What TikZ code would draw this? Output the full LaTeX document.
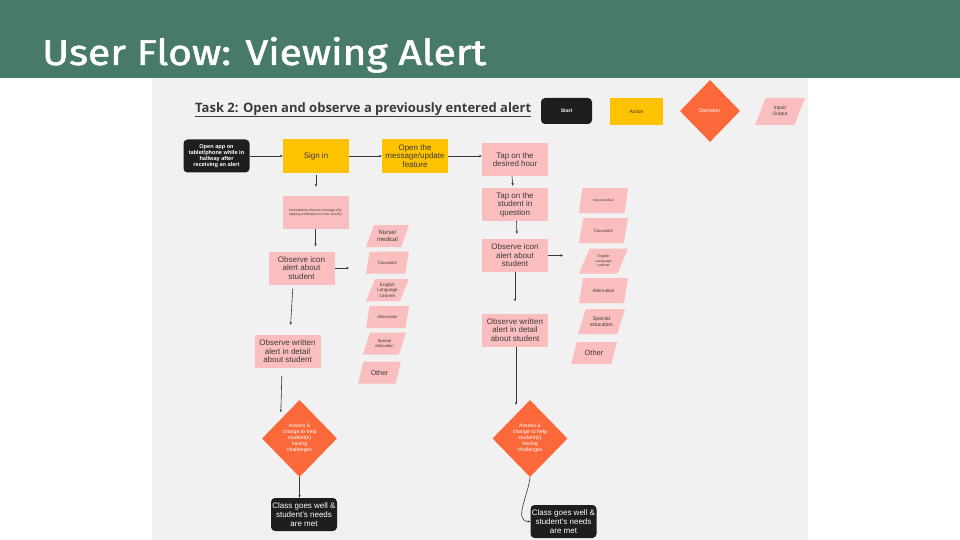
\documentclass[tikz,border=0pt]{standalone}
\usepackage{graphicx}
\usepackage{fontspec}
\setmainfont{Liberation Sans}
\newfontfamily\headfont[FakeBold=1.4]{Fira Sans}
\newfontfamily\taskfont{Open Sans}
\usetikzlibrary{shapes.geometric,arrows.meta}

\definecolor{headgreen}{RGB}{72,122,106}
\definecolor{panelgrey}{RGB}{241,241,241}
\definecolor{startblack}{RGB}{30,30,30}
\definecolor{actyellow}{RGB}{253,194,0}
\definecolor{iopink}{RGB}{251,190,190}
\definecolor{decorange}{RGB}{251,104,58}
\definecolor{txtdark}{RGB}{62,58,58}
\definecolor{linegrey}{RGB}{55,55,55}

\newcommand\fsz[2]{\fontsize{#1}{#2}\selectfont}

\tikzset{
  startbox/.style={fill=startblack, rounded corners=4pt, text=white, align=center,
    inner sep=1pt, minimum width=66pt, minimum height=33pt, font=\fsz{8}{9}},
  actbox/.style={fill=actyellow, text=txtdark, align=center, inner sep=1pt,
    minimum width=66pt, minimum height=34pt, font=\fsz{8}{8.5}},
  pinkbox/.style={fill=iopink, text=txtdark, align=center, inner sep=1pt,
    minimum width=66pt, minimum height=33pt, font=\fsz{8}{8.5}},
  iobox/.style={trapezium, trapezium left angle=63, trapezium right angle=117,
    trapezium stretches=true, fill=iopink, text=txtdark, align=center,
    inner sep=0.5pt, minimum width=43pt, minimum height=22pt},
  decbox/.style={diamond, fill=decorange, text=white, align=center, inner sep=0pt,
    minimum width=75pt, minimum height=77pt, font=\fsz{5.2}{6}},
  arr/.style={draw=linegrey, line width=0.6pt, -{Stealth[length=2.8pt,width=2.4pt]}},
}

\begin{document}
\begin{tikzpicture}[x=1pt, y=-1pt]
  \useasboundingbox (0,0) rectangle (960,540);
  % page background, header band and grey board
  \fill[white] (0,0) rectangle (960,540);
  \fill[headgreen] (0,0) rectangle (960,78);
  \fill[panelgrey] (152,78) rectangle (808,540);

  \node[anchor=base west, inner sep=0, text=white] (head) at (42,65)
    {\resizebox{444pt}{28pt}{\headfont User Flow: Viewing Alert}};

  % task heading
  \node[anchor=base west, inner sep=0, text=txtdark] (task) at (195,112.5)
    {\resizebox{336pt}{!}{\taskfont\bfseries Task 2: Open and observe a previously entered alert}};
  \draw[txtdark, line width=0.8pt] (task.base west) ++(0,3.5) -- ++(336,0);

  % legend
  \node[startbox, minimum width=51pt, minimum height=26pt, font=\fsz{5}{6}\bfseries] (lgStart) at (566.5,111) {Start};
  \node[actbox, minimum width=53pt, minimum height=27pt, font=\fsz{5}{6}] (lgAct) at (636.5,111.5) {Action};
  \node[decbox, minimum width=60pt, minimum height=62pt, font=\fsz{5.5}{6.5}] (lgDec) at (710,111) {Decision};
  \node[iobox, minimum width=50pt, minimum height=27pt, font=\fsz{5}{6}] (lgIO) at (780,111.5) {Input/\\Output};

  % top row
  \node[startbox, font=\fsz{5.6}{5.9}\bfseries] (start) at (216.5,156)
    {Open app on\\tablet/phone while in\\hallway after\\receiving an alert};
  \node[actbox] (signin) at (316,156) {Sign in};
  \node[actbox] (openmsg) at (415,156) {Open the\\message/update\\feature};

  % left column
  \node[pinkbox, font=\fsz{3.4}{4.6}] (immed) at (315.5,212.5)
    {Immediately observe message (By\\tapping notification on lock screen)};
  \node[pinkbox] (iconL) at (301.5,268) {Observe icon\\alert about\\student};
  \node[pinkbox] (writL) at (287.5,351.5) {Observe written\\alert in detail\\about student};
  \node[decbox] (decL) at (299.5,438.5) {Assess \&\\change to help\\student(s)\\having\\challenges};
  \node[startbox] (endL) at (304,514.5) {Class goes well \&\\student's needs\\are met};

  % left list of alert types
  \node[iobox, font=\fsz{6}{7}] (nurseL) at (387.5,236) {Nurse/\\medical};
  \node[iobox, font=\fsz{4.2}{5}] (counsL) at (387.5,262.5) {Counselor};
  \node[iobox, font=\fsz{4.6}{5.5}] (ellL) at (387.5,290) {English\\Language\\Learner};
  \node[iobox, font=\fsz{4.2}{5}] (altL) at (387.5,317) {Alternation};
  \node[iobox, font=\fsz{4.2}{5}] (spedL) at (384.5,343.5) {Special\\education};
  \node[iobox, font=\fsz{7}{8}] (otherL) at (379.5,372.5) {Other};

  % right column
  \node[pinkbox] (taphour) at (515,159.5) {Tap on the\\desired hour};
  \node[pinkbox] (tapstud) at (515,204.5) {Tap on the\\student in\\question};
  \node[pinkbox] (iconR) at (515,255.5) {Observe icon\\alert about\\student};
  \node[pinkbox] (writR) at (515,330) {Observe written\\alert in detail\\about student};
  \node[decbox] (decR) at (530,438.5) {Assess \&\\change to help\\student(s)\\having\\challenges};
  \node[startbox] (endR) at (563.5,521.5) {Class goes well \&\\student's needs\\are met};

  % right list of alert types
  \node[iobox, minimum width=49pt, minimum height=25pt, font=\fsz{3.2}{4}] (nurseR) at (603.5,200.5) {Nurse/medical};
  \node[iobox, minimum width=49pt, minimum height=25pt, font=\fsz{4.2}{5}] (counsR) at (603.5,230.5) {Counselor};
  \node[iobox, minimum width=49pt, minimum height=25pt, font=\fsz{3.6}{4.6}] (ellR) at (603.5,261) {English\\Language\\Learner};
  \node[iobox, minimum width=49pt, minimum height=25pt, font=\fsz{4.6}{5.5}] (altR) at (603.5,290.5) {Alternation};
  \node[iobox, minimum width=47pt, minimum height=25pt, font=\fsz{5.2}{6.5}] (spedR) at (601.5,321.5) {Special\\education};
  \node[iobox, minimum width=46pt, minimum height=22pt, font=\fsz{7.5}{8.5}] (otherR) at (594,353) {Other};

  % free ends of the arrows pointing at the lists
  \coordinate (listL) at (349,268);
  \coordinate (listR) at (563,255.5);

  % connectors
  \draw[arr] (start) -- (signin);
  \draw[arr] (signin) -- (openmsg);
  \draw[arr] (openmsg.east) -- (openmsg.east -| taphour.west);
  \draw[arr, shorten <=2pt, shorten >=9pt] (signin.south) -- (signin.south |- immed.north);
  \draw[arr, shorten >=5pt] (immed.south) -- (immed.south |- iconL.north);
  \draw[arr] (iconL.east) -- (listL);
  \draw[arr, shorten <=4pt, shorten >=10pt] ([xshift=-8.5pt]iconL.south) -- ([xshift=2.5pt]writL.north);
  \draw[arr, shorten <=8pt, shorten >=7pt] ([xshift=-5.5pt]writL.south) -- (decL.north west);
  \draw[arr] (decL.south) -- (decL.south |- endL.north);
  \draw[arr, shorten >=2pt] ([xshift=-3pt]taphour.south) -- ([xshift=-2pt]tapstud.north);
  \draw[arr, shorten >=5pt] ([xshift=1.5pt]tapstud.south) -- ([xshift=2pt]iconR.north);
  \draw[arr] (iconR.east) -- (listR);
  \draw[arr, shorten >=12pt] (iconR.south) -- (writR.north);
  \draw[arr] ([xshift=1pt]writR.south) -- ([xshift=1pt,yshift=-5pt]writR.south |- decR.north);
  \draw[arr] (decR.south) to[out=-95, in=180] (endR.west);
\end{tikzpicture}
\end{document}
